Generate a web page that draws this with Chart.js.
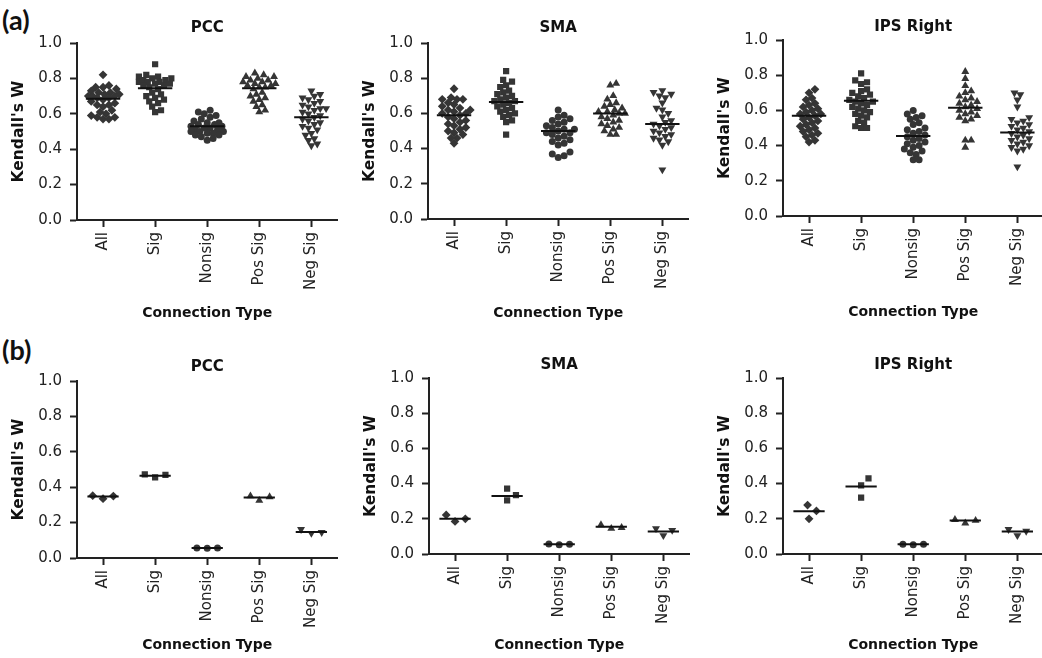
<!DOCTYPE html>
<html>
<head>
<meta charset="utf-8">
<script src="https://cdn.jsdelivr.net/npm/chart.js@4.4.1/dist/chart.umd.min.js"></script>
<style>
  body { margin: 0; width: 1042px; height: 658px; overflow: hidden; background: #fff; position: relative; }
  canvas { position: absolute; }
  .panel-label { position: absolute; left: 2px; font: bold 27px Lato, "DejaVu Sans", sans-serif; color: #111; line-height: 1; }
</style>
</head>
<body>
<div class="panel-label" style="top:6px">(a)</div>
<div class="panel-label" style="top:336px">(b)</div>
<script>
const categories = ["All", "Sig", "Nonsig", "Pos Sig", "Neg Sig"];
const regions = ["PCC", "SMA", "IPS Right"];
const yTicks = [0, 0.2, 0.4, 0.6, 0.8, 1.0];

// (a) Kendall's W per connection type (All, Sig, Nonsig, Pos Sig, Neg Sig)
const pccA = [
  [0.82,0.76,0.75,0.75,0.74,0.73,0.72,0.72,0.71,0.71,0.70,0.70,0.70,0.69,0.69,0.68,0.67,0.66,0.65,0.65,0.64,0.62,0.61,0.60,0.59,0.58,0.58,0.57,0.57],
  [0.88,0.82,0.81,0.81,0.80,0.80,0.79,0.79,0.78,0.78,0.78,0.77,0.77,0.76,0.76,0.75,0.74,0.72,0.71,0.70,0.69,0.68,0.67,0.66,0.64,0.62,0.61],
  [0.62,0.61,0.60,0.59,0.58,0.57,0.56,0.55,0.55,0.54,0.54,0.53,0.53,0.52,0.52,0.51,0.51,0.50,0.50,0.50,0.49,0.49,0.48,0.48,0.47,0.46,0.45],
  [0.83,0.82,0.81,0.81,0.80,0.79,0.79,0.78,0.78,0.77,0.77,0.76,0.76,0.75,0.75,0.74,0.72,0.71,0.70,0.69,0.68,0.67,0.65,0.64,0.62,0.61],
  [0.73,0.71,0.70,0.69,0.68,0.67,0.66,0.65,0.64,0.63,0.63,0.62,0.61,0.60,0.59,0.58,0.57,0.56,0.55,0.54,0.53,0.52,0.51,0.49,0.48,0.46,0.45,0.43,0.42]
];
const pccAMean = [0.685, 0.745, 0.53, 0.745, 0.58];

const smaA = [
  [0.74,0.69,0.68,0.68,0.68,0.66,0.65,0.64,0.63,0.62,0.62,0.61,0.60,0.60,0.59,0.58,0.57,0.56,0.55,0.54,0.53,0.52,0.51,0.50,0.49,0.48,0.46,0.46,0.43],
  [0.84,0.79,0.78,0.76,0.75,0.73,0.72,0.71,0.70,0.69,0.68,0.67,0.67,0.66,0.65,0.64,0.63,0.62,0.61,0.60,0.59,0.58,0.56,0.55,0.48],
  [0.62,0.59,0.58,0.57,0.56,0.55,0.54,0.53,0.52,0.51,0.51,0.50,0.49,0.49,0.48,0.47,0.46,0.45,0.44,0.43,0.42,0.38,0.37,0.36,0.35],
  [0.77,0.76,0.70,0.68,0.66,0.65,0.64,0.63,0.62,0.61,0.61,0.60,0.60,0.59,0.58,0.57,0.56,0.55,0.54,0.53,0.52,0.51,0.50,0.48,0.48],
  [0.73,0.72,0.71,0.70,0.69,0.66,0.63,0.62,0.60,0.58,0.56,0.55,0.54,0.53,0.52,0.51,0.50,0.49,0.48,0.47,0.46,0.45,0.44,0.42,0.28]
];
const smaAMean = [0.59, 0.665, 0.50, 0.60, 0.54];

const ipsA = [
  [0.72,0.70,0.67,0.66,0.64,0.63,0.62,0.61,0.60,0.59,0.58,0.58,0.57,0.56,0.55,0.54,0.53,0.52,0.51,0.50,0.49,0.48,0.47,0.46,0.45,0.43,0.42],
  [0.81,0.77,0.76,0.75,0.72,0.71,0.70,0.69,0.68,0.67,0.66,0.65,0.65,0.64,0.63,0.62,0.61,0.60,0.59,0.58,0.57,0.56,0.54,0.53,0.51,0.50,0.50],
  [0.60,0.58,0.57,0.56,0.55,0.53,0.52,0.50,0.49,0.48,0.47,0.46,0.45,0.44,0.43,0.42,0.41,0.40,0.39,0.38,0.37,0.36,0.35,0.32,0.32],
  [0.82,0.78,0.74,0.71,0.70,0.68,0.67,0.66,0.65,0.64,0.63,0.62,0.61,0.60,0.59,0.58,0.57,0.56,0.55,0.54,0.43,0.43,0.39],
  [0.70,0.69,0.66,0.62,0.56,0.55,0.54,0.53,0.52,0.51,0.50,0.49,0.48,0.47,0.46,0.45,0.44,0.43,0.42,0.41,0.40,0.39,0.38,0.37,0.28]
];
const ipsAMean = [0.57, 0.655, 0.455, 0.615, 0.475];

// (b)
const pccB = [[0.335,0.35,0.352],[0.455,0.47,0.472],[0.055,0.056,0.057],[0.325,0.345,0.35],[0.14,0.145,0.162]];
const pccBMean = [0.347, 0.465, 0.056, 0.342, 0.147];
const smaB = [[0.185,0.2,0.222],[0.305,0.335,0.372],[0.053,0.055,0.057],[0.145,0.15,0.165],[0.105,0.135,0.145]];
const smaBMean = [0.2, 0.33, 0.055, 0.155, 0.128];
const ipsB = [[0.2,0.245,0.278],[0.32,0.39,0.43],[0.053,0.055,0.056],[0.175,0.19,0.195],[0.105,0.13,0.14]];
const ipsBMean = [0.243, 0.383, 0.055, 0.19, 0.128];

const markers = [
  { style: "rectRot", radius: 4.4, rotation: 0 },
  { style: "rect", radius: 4.4, rotation: 0 },
  { style: "circle", radius: 3.5, rotation: 0 },
  { style: "triangle", radius: 4.6, rotation: 0 },
  { style: "triangle", radius: 4.6, rotation: 180 }
];

const FONT = "'DejaVu Sans', Verdana, sans-serif";
const INK = "#222";
const DOT = "#353535";

// canvas placement for each panel (pixel layout only)
const panels = [
  { name: regions[0], vals: pccA, mean: pccAMean, axisX: 77,  titleY: 28,  top: 43,  bottom: 220, xTitleY: 313, diam: 6,  spread: 17, half: 0.33 },
  { name: regions[1], vals: smaA, mean: smaAMean, axisX: 428, titleY: 28,  top: 43,  bottom: 219, xTitleY: 313, diam: 6,  spread: 17, half: 0.33 },
  { name: regions[2], vals: ipsA, mean: ipsAMean, axisX: 783, titleY: 27,  top: 40,  bottom: 216, xTitleY: 312, diam: 6,  spread: 17, half: 0.33 },
  { name: regions[0], vals: pccB, mean: pccBMean, axisX: 77,  titleY: 367, top: 381, bottom: 558, xTitleY: 645, diam: 10, spread: 17, half: 0.3 },
  { name: regions[1], vals: smaB, mean: smaBMean, axisX: 429, titleY: 365, top: 378, bottom: 554, xTitleY: 645, diam: 10, spread: 17, half: 0.3 },
  { name: regions[2], vals: ipsB, mean: ipsBMean, axisX: 783, titleY: 365, top: 378, bottom: 554, xTitleY: 645, diam: 10, spread: 17, half: 0.3 }
];

const PX_PER_CAT = 53;
const AXIS_W = 77;

// beeswarm offsets, kept inside +-spread px; crowded points take the least-overlapping slot
function swarm(values, pxY, diam, spread) {
  const order = values.map((v, i) => i).sort((a, b) => values[a] - values[b]);
  const placed = [];
  const offs = new Array(values.length);
  const step = 1.5;
  order.forEach(i => {
    const y = values[i] * pxY;
    let best = 0, bestGap = -1;
    for (let k = 0; ; k++) {
      const x = k === 0 ? 0 : (k % 2 ? 1 : -1) * Math.ceil(k / 2) * step;
      if (Math.abs(x) > spread) break;
      const gap = placed.reduce((g, p) => Math.min(g, Math.hypot(p.x - x, p.y - y)), Infinity);
      if (gap >= diam) { best = x; bestGap = gap; break; }
      if (gap > bestGap) { bestGap = gap; best = x; }
    }
    placed.push({ x: best, y });
    offs[i] = best / PX_PER_CAT;
  });
  return offs;
}

panels.forEach(p => {
  const T = p.titleY - 13;
  const H = p.xTitleY + 12 - T;
  const W = AXIS_W + 265;
  const cv = document.createElement("canvas");
  cv.width = W; cv.height = H;
  cv.style.left = (p.axisX - AXIS_W) + "px";
  cv.style.top = T + "px";
  document.body.appendChild(cv);

  const pxY = p.bottom - p.top;
  const datasets = [];
  p.mean.forEach((m, i) => {
    datasets.push({
      type: "line",
      data: [{ x: i + 1 - p.half, y: m }, { x: i + 1 + p.half, y: m }],
      borderColor: "#111", borderWidth: 2, pointRadius: 0, order: 0
    });
  });
  p.vals.forEach((vals, i) => {
    const offs = swarm(vals, pxY, p.diam, p.spread);
    datasets.push({
      type: "scatter",
      data: vals.map((v, j) => ({ x: i + 1 + offs[j], y: v })),
      backgroundColor: DOT, borderColor: DOT, borderWidth: 0,
      pointStyle: markers[i].style, pointRadius: markers[i].radius,
      rotation: markers[i].rotation, order: 1
    });
  });

  new Chart(cv, {
    type: "scatter",
    data: { datasets },
    options: {
      responsive: false,
      animation: false,
      layout: { padding: 0 },
      plugins: {
        legend: { display: false },
        tooltip: { enabled: false },
        title: {
          display: true, text: p.name, color: "#111", fullSize: false,
          font: { family: FONT, size: 15, weight: "bold" },
          padding: { top: 4, bottom: p.top - T - 22 }
        }
      },
      scales: {
        x: {
          type: "linear", min: 0.5, max: 5.5,
          afterBuildTicks: s => { s.ticks = categories.map((c, i) => ({ value: i + 1 })); },
          afterFit: s => { s.height = H - (p.bottom - T); },
          ticks: {
            callback: v => categories[Math.round(v) - 1],
            minRotation: 90, maxRotation: 90, padding: 5,
            color: INK, font: { family: FONT, size: 15 }
          },
          grid: { drawOnChartArea: false, tickLength: 7, tickColor: INK, tickWidth: 2 },
          border: { color: INK, width: 2 },
          title: {
            display: true, text: "Connection Type", color: "#111",
            font: { family: FONT, size: 14, weight: "bold" },
            padding: { top: 0, bottom: 3.6 }
          }
        },
        y: {
          min: 0, max: 1,
          afterBuildTicks: s => { s.ticks = yTicks.map(v => ({ value: v })); },
          afterFit: s => { s.width = AXIS_W; },
          ticks: {
            callback: v => Number(v).toFixed(1), padding: 8,
            color: INK, font: { family: FONT, size: 15 }
          },
          grid: { drawOnChartArea: false, tickLength: 7, tickColor: INK, tickWidth: 2 },
          border: { color: INK, width: 2 },
          title: {
            display: true, text: "Kendall's W", color: "#111",
            font: { family: FONT, size: 15.5, weight: "bold" },
            padding: { top: 10, bottom: 0 }
          }
        }
      }
    }
  });
});
</script>
</body>
</html>
